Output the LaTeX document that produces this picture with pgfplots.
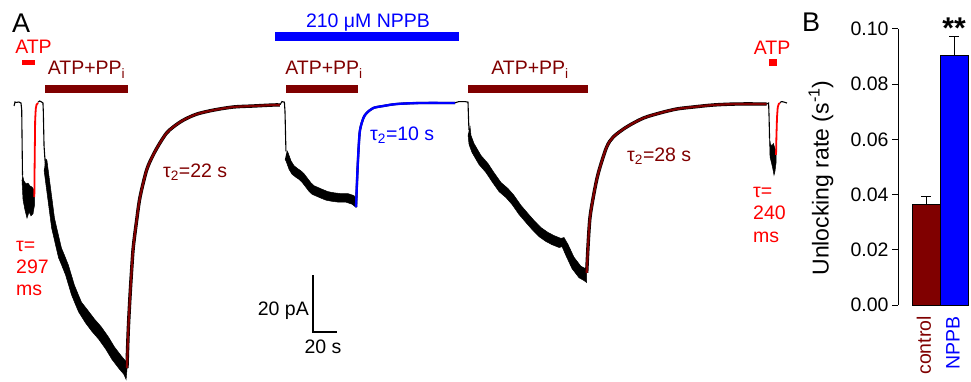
\documentclass[border=0pt]{standalone}
\usepackage{pgfplots}
\pgfplotsset{compat=1.18}
\usepackage{fontspec}
\setmainfont{Liberation Sans}
\definecolor{maroon}{RGB}{128,0,0}
\definecolor{pblue}{RGB}{0,0,255}
\definecolor{pred}{RGB}{255,0,0}
\newcommand{\fs}{\fontsize{19.5}{22}\selectfont}
\begin{document}
\begin{tikzpicture}
\path[use as bounding box] (0,0) rectangle (971pt,381pt);
% ---------------- Panel A: current trace (time in s, current in pA)
\begin{axis}[at={(0pt,0pt)}, anchor=south west, scale only axis,
  width=800pt, height=381pt, xmin=-12.5, xmax=654.17, ymin=-97.54, ymax=36.14,
  hide axis, clip=false]
% first ATP pulse
\addplot[black, line width=1.1pt] coordinates {(-0.8,-1.05)(0,0.35)(0.8,0.2)(3.3,0.35)(5,0)(5.6,-2.5)(6.0,-16.8)(6.25,-25.3)};
\addplot[fill=black, draw=black, line width=0.5pt] coordinates {(6.25,-25.3)(7.5,-27.4)(9.2,-28.4)(10.8,-28.1)(12.5,-29.1)(14.2,-29.5)(15.8,-30.5)(16.25,-31.2)(16.25,-35.8)(15,-38.9)(13.3,-39.6)(11.7,-38.2)(10,-40.4)(8.3,-37.5)(6.7,-34.0)(5.8,-27.0)};
\addplot[pred, line width=1.8pt] coordinates {(16.1,-33)(16.4,-20)(16.8,-6)(17.3,-2)(18.0,-0.5)(19.2,0)};
\addplot[black, line width=1.1pt] coordinates {(19.2,0.3)(20.5,0.7)(22,0.4)(23.3,0)(23.6,-3)(24.2,-15)(25.0,-20)(25.4,-21.8)};
% first ATP+PPi decline
\addplot[fill=black, draw=black, line width=0.5pt] coordinates {(25.4,-19.5)(26.6,-20.1)(27.9,-24.3)(30.4,-32.3)(32.9,-40.4)(36.2,-46.4)(38.7,-50.9)(41.2,-53.4)(44.5,-56.9)(47.0,-60.4)(49.5,-63.9)(52.9,-67.4)(55.4,-69.9)(61.0,-72.9)(66.0,-75.7)(71.8,-78.5)(77.7,-82.0)(82.7,-85.5)(88.5,-88.7)(92.7,-90.8)(93.6,-92.0)
(92.6,-97.0)(90.7,-95.2)(86.5,-93.1)(80.7,-89.9)(75.7,-86.4)(69.8,-82.9)(64.0,-80.1)(59.0,-77.3)(53.0,-73.3)(50.5,-70.8)(47.1,-67.3)(44.6,-63.8)(42.1,-60.3)(38.8,-56.8)(36.3,-54.3)(33.8,-49.8)(30.5,-43.8)(28.0,-35.7)(25.5,-27.7)(24.2,-23.5)};
\addplot[black, line width=3.4pt, smooth] coordinates {(93.3,-93.0)(94.4,-79.6)(95.8,-68.1)(97.2,-58.6)(98.6,-50.5)(101.4,-41.1)(104.2,-33.0)(109.7,-23.5)(115.2,-18.2)(120.8,-14.0)(126.4,-10.5)(131.9,-8.4)(140.3,-6.0)(151.4,-3.9)(165.3,-2.5)(181.9,-1.4)(198.6,-1.05)(215.3,-0.7)(220.8,-0.7)};
\addplot[maroon, line width=2.2pt, smooth] coordinates {(93.3,-93.0)(94.4,-79.6)(95.8,-68.1)(97.2,-58.6)(98.6,-50.5)(101.4,-41.1)(104.2,-33.0)(109.7,-23.5)(115.2,-18.2)(120.8,-14.0)(126.4,-10.5)(131.9,-8.4)(140.3,-6.0)(151.4,-3.9)(165.3,-2.5)(181.9,-1.4)(198.6,-1.05)(215.3,-0.7)(220.8,-0.7)};
\addplot[black, line width=1.1pt] coordinates {(220.8,-0.6)(222.5,0.5)(224.5,0.3)(225.0,-3)(225.5,-12)(225.8,-17)};
% NPPB: second ATP+PPi
\addplot[fill=black, draw=black, line width=0.5pt] coordinates {(226.6,-16.7)(227.5,-17.4)(230.0,-20.3)(232.5,-22.0)(235.8,-23.1)(238.3,-23.8)(240.8,-24.8)(244.1,-26.6)(246.6,-28.0)(249.1,-29.0)(255.0,-30.1)(260.8,-31.1)(265.8,-31.5)(271.6,-31.8)(277.5,-31.8)(282.5,-32.5)(284.2,-33.6)
(284.2,-36.6)(280.9,-35.5)(275.9,-34.8)(270.0,-34.8)(264.2,-34.5)(259.2,-34.1)(253.4,-33.1)(247.5,-32.0)(245.0,-31.0)(242.5,-29.6)(239.2,-27.8)(236.7,-26.8)(234.2,-26.1)(230.9,-25.0)(228.4,-23.3)(225.9,-20.4)(225.0,-19.7)};
\addplot[black, line width=2.2pt, smooth] coordinates {(284.2,-36.5)(285.3,-24.6)(286.4,-15.4)(287.5,-9.5)(290.3,-5.3)(293.1,-3.5)(298.6,-1.75)(306.9,-1.05)(318.1,-0.35)(337.5,0)(366.7,0)};
\addplot[pblue, line width=2.4pt, smooth] coordinates {(284.2,-36.5)(285.3,-24.6)(286.4,-15.4)(287.5,-9.5)(290.3,-5.3)(293.1,-3.5)(298.6,-1.75)(306.9,-1.05)(318.1,-0.35)(337.5,0)(366.7,0)};
\addplot[black, line width=1.1pt] coordinates {(366.7,0.1)(370,0.5)(375,0.5)(377.5,0.3)(377.9,-5)(378.3,-9.5)};
% third ATP+PPi
\addplot[fill=black, draw=black, line width=0.5pt] coordinates {(379.1,-7.9)(380.0,-11.4)(382.5,-14.2)(385.8,-16.6)(388.3,-18.4)(394.1,-21.2)(399.1,-24.4)(405.0,-27.9)(410.8,-30.0)(415.8,-32.4)(421.6,-35.9)(427.5,-38.8)(432.5,-41.2)(438.3,-43.7)(444.1,-45.4)(449.1,-46.5)(455.0,-47.5)(457.5,-47.2)(460.8,-49.6)(465.8,-54.1)(471.6,-57.3)(476.4,-58.3)
(476.4,-63.0)(474.2,-62.3)(470.0,-61.3)(464.2,-58.1)(459.2,-53.6)(455.9,-50.4)(453.4,-50.7)(447.5,-49.7)(442.5,-48.6)(436.7,-46.9)(430.9,-44.4)(425.9,-42.0)(420.0,-39.1)(414.2,-35.6)(409.2,-33.2)(403.4,-31.1)(397.5,-27.6)(392.5,-24.4)(386.7,-21.6)(384.2,-19.8)(380.9,-17.4)(378.4,-14.6)(377.5,-11.1)};
\addplot[black, line width=3.4pt, smooth] coordinates {(476.4,-59.6)(477.8,-48.1)(479.2,-40.0)(481.9,-33.0)(484.7,-27.0)(487.5,-22.5)(493.1,-15.4)(498.6,-11.9)(509.7,-8.4)(523.6,-5.3)(537.5,-3.5)(551.4,-2.1)(565.3,-1.4)(581.9,-0.7)(601.4,-0.35)(626.4,-0.35)};
\addplot[maroon, line width=2.2pt, smooth] coordinates {(476.4,-59.6)(477.8,-48.1)(479.2,-40.0)(481.9,-33.0)(484.7,-27.0)(487.5,-22.5)(493.1,-15.4)(498.6,-11.9)(509.7,-8.4)(523.6,-5.3)(537.5,-3.5)(551.4,-2.1)(565.3,-1.4)(581.9,-0.7)(601.4,-0.35)(626.4,-0.35)};
\addplot[black, line width=1.1pt] coordinates {(626.4,-0.35)(628.0,0)(628.4,-5)(628.8,-12.5)};
% last ATP pulse
\addplot[fill=black, draw=black, line width=0.5pt] coordinates {(628.8,-12.5)(629.6,-14.5)(630.8,-15)(632,-14.2)(633.3,-16)(634.2,-17)(634.2,-21)(633.3,-24)(632.5,-25.3)(631.5,-23)(630.4,-21)(629.2,-19)(628.6,-10)};
\addplot[pred, line width=1.8pt] coordinates {(634.2,-18.2)(634.5,-12)(635,-5)(635.6,-1.5)(636.5,-0.3)(637.5,0)};
\addplot[black, line width=1.1pt] coordinates {(637.5,0.2)(639,0.5)(641,0.3)(643.3,0)};
\end{axis}
% ---------------- Panel B: bar chart
\begin{axis}[at={(898pt,76pt)}, anchor=south west, scale only axis,
  width=73pt, height=276pt, xmin=-1, xmax=1.607, ymin=0, ymax=0.1,
  axis y line*=left, axis x line=none,
  ytick={0,0.02,0.04,0.06,0.08,0.1},
  yticklabel style={font=\fs, /pgf/number format/fixed, /pgf/number format/fixed zerofill, /pgf/number format/precision=2, /pgf/number format/assume math mode=true},
  tick align=outside, major tick length=6pt,
  y axis line style={line width=1pt}, ytick style={line width=1pt, black},
  clip=false]
\addplot[ybar, bar width=28pt, bar shift=0pt, fill=maroon, draw=black, line width=0.6pt,
  error bars/.cd, y dir=plus, y explicit, error bar style={line width=1pt, black},
  error mark options={rotate=90, mark size=5pt, line width=1pt, black}]
  coordinates {(0,0.0365) +- (0,0.0027)};
\addplot[ybar, bar width=28pt, bar shift=0pt, fill=pblue, draw=black, line width=0.6pt,
  error bars/.cd, y dir=plus, y explicit, error bar style={line width=1pt, black},
  error mark options={rotate=90, mark size=5pt, line width=1pt, black}]
  coordinates {(1,0.0906) +- (0,0.0066)};
\end{axis}
% ---------------- annotations (pixel coordinates, y downward)
\begin{scope}[yshift=381pt, x=1pt, y=-1pt]
\fill[pred] (22,60) rectangle (35,65.5);
\fill[pred] (769,59) rectangle (777,66);
\fill[maroon] (45,85) rectangle (128,93);
\fill[maroon] (286,85) rectangle (358,93);
\fill[maroon] (468,85) rectangle (588,93);
\fill[pblue] (275,32.5) rectangle (459,41);
\node[anchor=base west, inner sep=0, font=\fontsize{27}{30}\selectfont] at (12,33) {A};
\node[anchor=base west, inner sep=0, font=\fontsize{27}{30}\selectfont] at (802,32) {B};
\node[anchor=base, inner sep=0, font=\fs, text=pred] at (33.5,54) {ATP};
\node[anchor=base, inner sep=0, font=\fs, text=pred] at (772,54.5) {ATP};
\node[anchor=base, inner sep=0, font=\fs, text=maroon] at (86.5,75) {ATP+PP\textsubscript{i}};
\node[anchor=base, inner sep=0, font=\fs, text=maroon] at (324,75) {ATP+PP\textsubscript{i}};
\node[anchor=base, inner sep=0, font=\fs, text=maroon] at (530,75) {ATP+PP\textsubscript{i}};
\node[anchor=base, inner sep=0, font=\fs, text=pblue] at (368,28) {210 μM NPPB};
\node[anchor=base west, inner sep=0, font=\fs, text=maroon] at (163,177) {τ\textsubscript{2}=22 s};
\node[anchor=base west, inner sep=0, font=\fs, text=pblue] at (370,140) {τ\textsubscript{2}=10 s};
\node[anchor=base west, inner sep=0, font=\fs, text=maroon] at (627,161) {τ\textsubscript{2}=28 s};
\node[anchor=base west, inner sep=0, font=\fs, text=pred] at (16,251) {τ=};
\node[anchor=base west, inner sep=0, font=\fs, text=pred] at (16,273) {297};
\node[anchor=base west, inner sep=0, font=\fs, text=pred] at (16,295) {ms};
\node[anchor=base west, inner sep=0, font=\fs, text=pred] at (753,197) {τ=};
\node[anchor=base west, inner sep=0, font=\fs, text=pred] at (753,219) {240};
\node[anchor=base west, inner sep=0, font=\fs, text=pred] at (753,242) {ms};
\draw[line width=1.1pt] (313,275) -- (313,332) -- (337,332);
\node[anchor=base east, inner sep=0, font=\fs] at (309,315) {20 pA};
\node[anchor=base, inner sep=0, font=\fs] at (323,353) {20 s};
\node[rotate=90, anchor=center, inner sep=0, font=\fontsize{23}{26}\selectfont] at (821,178) {Unlocking rate (s\textsuperscript{-1})};
\node[rotate=90, anchor=east, inner sep=0, font=\fs, text=maroon] at (924,316) {control};
\node[rotate=90, anchor=east, inner sep=0, font=\fs, text=pblue] at (953,316) {NPPB};
\node[anchor=center, inner sep=0, font=\fontsize{30}{30}\selectfont\bfseries] at (954,28) {**};
\end{scope}
\end{tikzpicture}
\end{document}
